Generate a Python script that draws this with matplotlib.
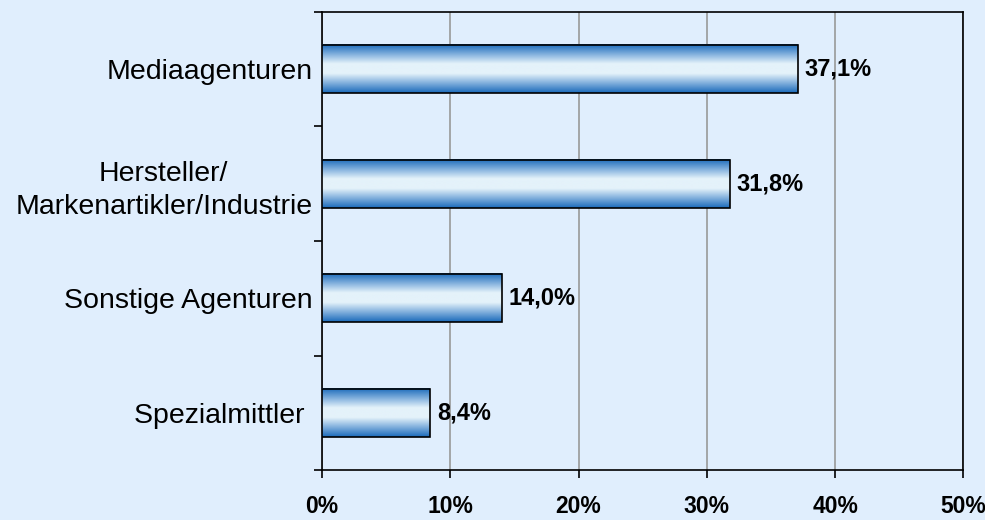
import numpy as np
import matplotlib.pyplot as plt
from matplotlib.colors import LinearSegmentedColormap

categories = ['Mediaagenturen', 'Hersteller/\nMarkenartikler/Industrie',
              'Sonstige Agenturen', 'Spezialmittler ']
values = [37.1, 31.8, 14.0, 8.4]
value_labels = ['37,1%', '31,8%', '14,0%', '8,4%']
xticks = [0, 10, 20, 30, 40, 50]
xtick_labels = ['0%', '10%', '20%', '30%', '40%', '50%']

plt.rcParams['font.family'] = ['Liberation Sans', 'DejaVu Sans']
bg = '#E0EEFD'

fig = plt.figure(figsize=(9.85, 5.2), dpi=100, facecolor=bg)
ax = fig.add_axes([0.327, 0.096, 0.651, 0.881], facecolor=bg)

pos = np.arange(len(categories))[::-1]
bars = ax.barh(pos, values, height=0.42, facecolor='none', edgecolor='black',
               linewidth=1.2, zorder=4)

cmap = LinearSegmentedColormap.from_list(
    'tube', ['#1A6ABA', '#7FAEDC', '#E4F2FA', '#E4F2FA', '#7FAEDC', '#1A6ABA'])
grad = np.linspace(0, 1, 256).reshape(-1, 1)
for b in bars:
    x0, y0 = b.get_x(), b.get_y()
    ax.imshow(grad, cmap=cmap, aspect='auto', zorder=3,
              extent=[x0, x0 + b.get_width(), y0, y0 + b.get_height()])

for b, lab in zip(bars, value_labels):
    ax.annotate(lab, (b.get_width(), b.get_y() + b.get_height() / 2),
                xytext=(5, 0), textcoords='offset points', va='center',
                ha='left', fontsize=17, fontweight='bold', zorder=5)

ax.set_xlim(0, 50)
ax.set_ylim(-0.5, len(categories) - 0.5)
ax.set_xticks(xticks)
ax.set_xticklabels(xtick_labels, fontsize=16.5, fontweight='bold')
ax.tick_params(axis='x', length=6, width=1.2, pad=12)

ax.set_yticks(pos)
ax.set_yticklabels(categories, fontsize=20.5, multialignment='center',
                   linespacing=1.35)
ax.tick_params(axis='y', length=0, pad=7)
ax.set_yticks(np.arange(-0.5, len(categories), 1), minor=True)
ax.tick_params(axis='y', which='minor', length=6, width=1.2)

ax.grid(axis='x', color='#999999', linewidth=1.2, zorder=0)
ax.set_axisbelow(True)
for s in ax.spines.values():
    s.set_linewidth(1.2)

fig.savefig('out.png', dpi=100, facecolor=bg)
